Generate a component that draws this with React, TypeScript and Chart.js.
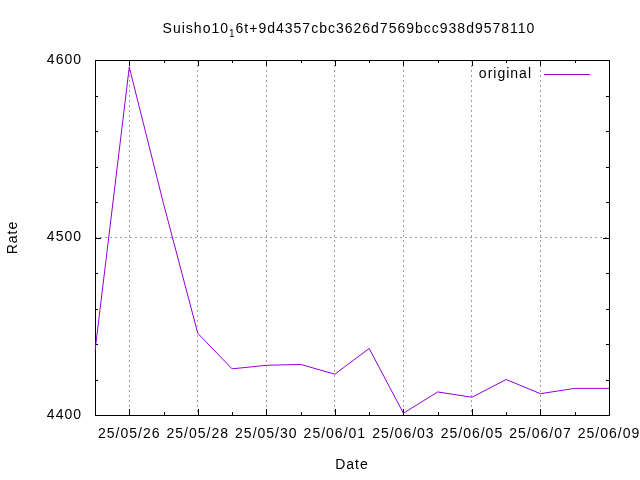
import React, { useEffect, useRef } from "react";
import { Chart, registerables } from "chart.js";

Chart.register(...registerables);

// ---- data ----
const dates = [
  "25/05/25", "25/05/26", "25/05/27", "25/05/28", "25/05/29", "25/05/30",
  "25/05/31", "25/06/01", "25/06/02", "25/06/03", "25/06/04", "25/06/05",
  "25/06/06", "25/06/07", "25/06/08", "25/06/09",
];
const rates = [
  4436, 4596, 4519, 4446, 4426, 4428, 4428.5, 4423, 4437.5, 4401, 4413, 4410,
  4420, 4412, 4415, 4415,
];
const yMin = 4400;
const yMax = 4600;
const yMinorStep = 20;
const yMajorStep = 100;
const seriesLabel = "original";
const titleMain = "Suisho10";
const titleSub = "1";
const titleRest = "6t+9d4357cbc3626d7569bcc938d9578110";
const xAxisTitle = "Date";
const yAxisTitle = "Rate";

const FONT = '"Liberation Sans", Arial, Helvetica, sans-serif';
const LINE_COLOR = "#9400d3";
const GRID_COLOR = "#a0a0a0";
const CLEAR = "rgba(0,0,0,0)";

const gnuplotPlugin = {
  id: "gnuplotLook",
  beforeUpdate(chart: any) {
    chart.ctx.letterSpacing = "1px";
  },
  beforeDraw(chart: any) {
    chart.ctx.letterSpacing = "1px";
  },
  beforeDatasetsDraw(chart: any) {
    const { ctx, chartArea: a, scales } = chart;
    ctx.save();
    ctx.setLineDash([]);
    ctx.strokeStyle = "#000";
    ctx.lineWidth = 1;
    ctx.strokeRect(a.left + 0.5, a.top + 0.5, a.right - a.left, a.bottom - a.top);
    ctx.beginPath();
    const xs = scales.x;
    xs.ticks.forEach((_t: any, i: number) => {
      const px = Math.round(xs.getPixelForTick(i)) + 0.5;
      const len = i % 2 === 1 ? 6 : 3;
      ctx.moveTo(px, a.bottom);
      ctx.lineTo(px, a.bottom - len);
      ctx.moveTo(px, a.top);
      ctx.lineTo(px, a.top + len);
    });
    const ys = scales.y;
    ys.ticks.forEach((t: any) => {
      const py = Math.round(ys.getPixelForValue(t.value)) + 0.5;
      const len = t.value % yMajorStep === 0 ? 6 : 3;
      ctx.moveTo(a.left, py);
      ctx.lineTo(a.left + len, py);
      ctx.moveTo(a.right, py);
      ctx.lineTo(a.right - len, py);
    });
    ctx.stroke();
    ctx.restore();
  },
  afterDraw(chart: any) {
    const { ctx } = chart;
    ctx.save();
    ctx.letterSpacing = "1px";
    ctx.fillStyle = "#000";
    ctx.textBaseline = "alphabetic";
    ctx.textAlign = "left";
    // title with subscript
    ctx.font = `14px ${FONT}`;
    const w1 = ctx.measureText(titleMain).width;
    const w3 = ctx.measureText(titleRest).width;
    ctx.font = `10px ${FONT}`;
    const w2 = ctx.measureText(titleSub).width;
    const total = w1 + w2 + w3;
    let x = 349 - total / 2;
    ctx.font = `14px ${FONT}`;
    ctx.fillText(titleMain, x, 33);
    x += w1;
    ctx.font = `10px ${FONT}`;
    ctx.fillText(titleSub, x, 37);
    x += w2;
    ctx.font = `14px ${FONT}`;
    ctx.fillText(titleRest, x, 33);
    // legend
    const ds = chart.data.datasets[0];
    ctx.textAlign = "right";
    ctx.textBaseline = "middle";
    ctx.fillText(ds.label, 532, 74);
    ctx.beginPath();
    ctx.strokeStyle = ds.borderColor;
    ctx.lineWidth = 1;
    ctx.moveTo(544, 74.5);
    ctx.lineTo(590, 74.5);
    ctx.stroke();
    ctx.restore();
  },
};

export default function App() {
  const ref = useRef<HTMLCanvasElement>(null);
  useEffect(() => {
    if (!ref.current) return;
    const tickFont = { family: FONT, size: 14 };
    const chart = new Chart(ref.current, {
      type: "line",
      data: {
        labels: dates,
        datasets: [
          {
            label: seriesLabel,
            data: rates,
            borderColor: LINE_COLOR,
            backgroundColor: LINE_COLOR,
            borderWidth: 1,
            pointRadius: 0,
            tension: 0,
            fill: false,
          },
        ],
      },
      options: {
        animation: false,
        responsive: false,
        layout: { padding: { top: 60, right: 31, left: 0, bottom: 0 } },
        plugins: {
          legend: { display: false },
          title: { display: false },
          tooltip: { enabled: false },
        },
        scales: {
          x: {
            type: "category",
            offset: false,
            grid: {
              drawTicks: false,
              lineWidth: 1,
              color: (c: any) =>
                c.index % 2 === 1 && c.index < dates.length - 1 ? GRID_COLOR : CLEAR,
            },
            border: { display: false, dash: [2, 3] },
            ticks: {
              autoSkip: false,
              maxRotation: 0,
              minRotation: 0,
              padding: 11,
              color: "#000",
              font: tickFont,
              callback: (_v: any, i: number) => (i % 2 === 1 ? dates[i] : ""),
            },
            title: {
              display: true,
              text: xAxisTitle,
              color: "#000",
              font: tickFont,
              padding: { top: 0, bottom: 6 },
            },
            afterFit: (s: any) => {
              s.height = 65;
              s.paddingLeft = 0;
              s.paddingRight = 0;
            },
          },
          y: {
            type: "linear",
            min: yMin,
            max: yMax,
            grid: {
              drawTicks: false,
              lineWidth: 1,
              color: (c: any) =>
                c.tick && c.tick.value % yMajorStep === 0 && c.tick.value !== yMin && c.tick.value !== yMax
                  ? GRID_COLOR
                  : CLEAR,
            },
            border: { display: false, dash: [2, 3] },
            ticks: {
              stepSize: yMinorStep,
              padding: 13,
              color: "#000",
              font: tickFont,
              callback: (v: any) => (Number(v) % yMajorStep === 0 ? String(v) : ""),
            },
            title: {
              display: true,
              text: yAxisTitle,
              color: "#000",
              font: tickFont,
              padding: { top: 5, bottom: 0 },
            },
            afterFit: (s: any) => {
              s.width = 95;
              s.paddingTop = 0;
              s.paddingBottom = 0;
            },
          },
        },
      },
      plugins: [gnuplotPlugin],
    } as any);
    return () => chart.destroy();
  }, []);
  return (
    <div style={{ position: "absolute", left: 0, top: 0, width: 640, height: 480, background: "#fff" }}>
      <canvas ref={ref} width={640} height={480} />
    </div>
  );
}
